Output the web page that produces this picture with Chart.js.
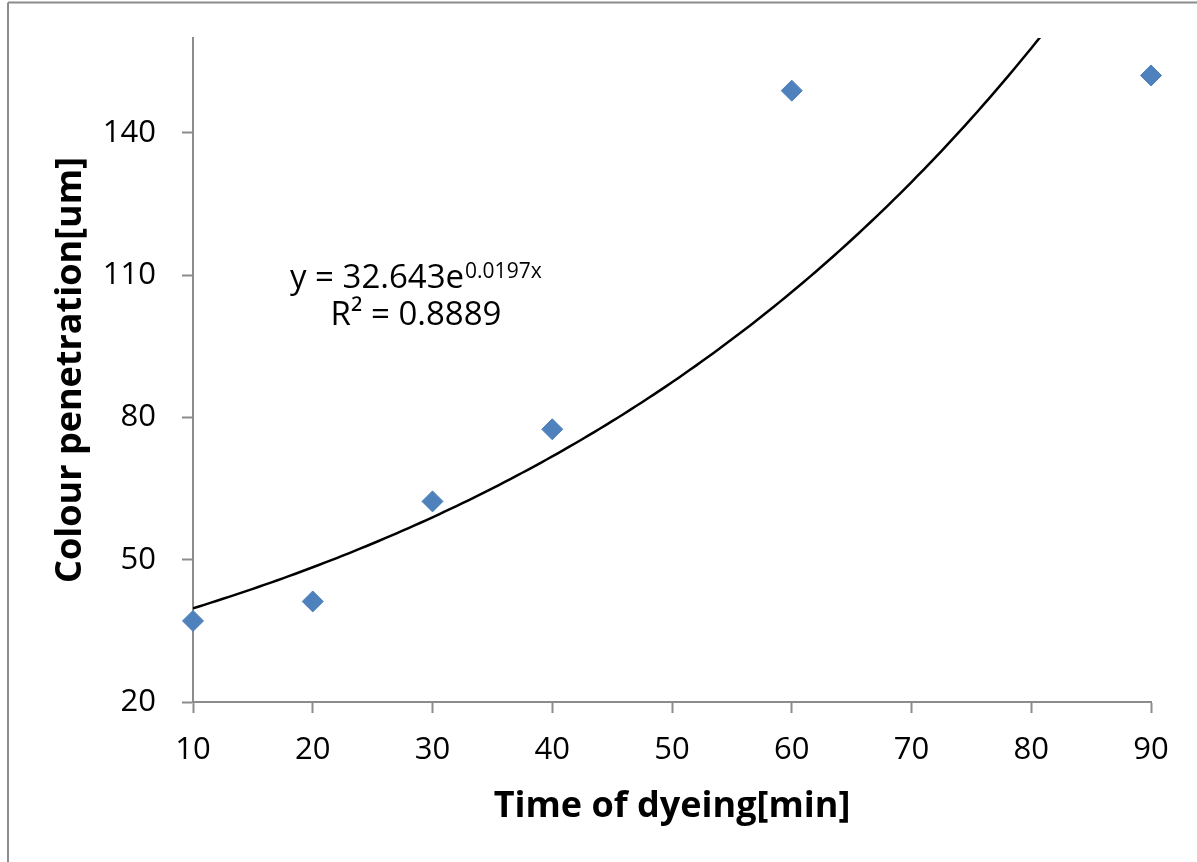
<!DOCTYPE html>
<html>
<head>
<meta charset="utf-8">
<script src="https://cdn.jsdelivr.net/npm/chart.js@4.4.1/dist/chart.umd.min.js"></script>
<style>
  html, body { margin: 0; padding: 0; background: #fff; }
</style>
</head>
<body>
<canvas id="dyeChart" width="1197" height="862"></canvas>
<script>
// dyeing data
var dyeTimes = [10, 20, 30, 40, 60, 90];
var penetration = [37.1, 41.2, 62.3, 77.5, 148.9, 152.1];
var xTicks = [10, 20, 30, 40, 50, 60, 70, 80, 90];
var yTicks = [20, 50, 80, 110, 140];

// exponential trendline y = a * e^(b x), as printed on the chart
var trendA = 32.643;
var trendB = 0.0197;
var trendR2 = 0.8889;

var trendPts = [];
for (var t = 10; t <= 90; t += 0.5) {
    trendPts.push({ x: t, y: trendA * Math.exp(trendB * t) });
}

var axisGrey = '#8c8c8c';

// frame lines (left + top only) and the equation text
var extras = {
    id: 'extras',
    beforeDraw: function (chart) {
        var c = chart.ctx;
        c.save();
        c.fillStyle = '#fff';
        c.fillRect(0, 0, chart.width, chart.height);
        c.strokeStyle = axisGrey;
        c.lineWidth = 2;
        c.beginPath();
        c.moveTo(8, 2.5);
        c.lineTo(chart.width, 2.5);
        c.moveTo(8, 2.5);
        c.lineTo(8, chart.height);
        c.stroke();
        c.restore();
    },
    afterDraw: function (chart) {
        var c = chart.ctx;
        c.save();
        c.fillStyle = '#000';
        c.textBaseline = 'alphabetic';
        c.textAlign = 'left';
        // line 1
        c.font = '33px "Open Sans"';
        var main = 'y = ' + trendA + 'e';
        c.fillText(main, 290, 288);
        var w = c.measureText(main).width;
        c.font = '21px "Open Sans"';
        c.fillText(String(trendB), 290 + w + 1, 278);
        c.fillText('x', 290 + w + 1 + c.measureText(String(trendB)).width, 278);
        // line 2
        c.font = '33px "Open Sans"';
        c.textAlign = 'center';
        c.fillText('R\u00B2 = ' + trendR2, 416, 325);
        c.restore();
    }
};

var ctx = document.getElementById('dyeChart').getContext('2d');
var dyeChart = new Chart(ctx, {
    type: 'scatter',
    data: {
        datasets: [{
            label: 'Colour penetration',
            data: dyeTimes.map(function (x, i) { return { x: x, y: penetration[i] }; }),
            pointStyle: 'rectRot',
            pointRadius: 10.5,
            pointHoverRadius: 10.5,
            backgroundColor: '#4F81BD',
            borderColor: '#4F81BD',
            borderWidth: 1,
            clip: false
        }, {
            label: 'Trend',
            type: 'line',
            data: trendPts,
            borderColor: '#000',
            borderWidth: 2.5,
            pointRadius: 0,
            tension: 0,
            fill: false
        }]
    },
    options: {
        responsive: false,
        animation: false,
        devicePixelRatio: 1,
        layout: {
            padding: { left: 0, right: 46, top: 38, bottom: 0 }
        },
        plugins: {
            legend: { display: false },
            tooltip: { enabled: false }
        },
        scales: {
            x: {
                type: 'linear',
                min: 10,
                max: 90,
                afterBuildTicks: function (scale) {
                    scale.ticks = xTicks.map(function (v) { return { value: v }; });
                },
                afterFit: function (scale) { scale.height = 160; },
                grid: { drawOnChartArea: false, tickLength: 11, color: axisGrey, tickWidth: 2 },
                border: { color: axisGrey, width: 2 },
                ticks: {
                    color: '#000',
                    padding: 19,
                    maxRotation: 0,
                    font: { family: 'Open Sans', size: 31 }
                },
                title: {
                    display: true,
                    text: 'Time of dyeing[min]',
                    color: '#000',
                    font: { family: 'Open Sans', size: 36, weight: 'bold', lineHeight: 1 },
                    padding: { top: 0, bottom: 37 }
                }
            },
            y: {
                type: 'linear',
                min: 20,
                max: 160,
                afterBuildTicks: function (scale) {
                    scale.ticks = yTicks.map(function (v) { return { value: v }; });
                },
                afterFit: function (scale) {
                    scale.width = 193;
                    scale.paddingTop = 0;
                    scale.paddingBottom = 0;
                },
                grid: { drawOnChartArea: false, tickLength: 11, color: axisGrey, tickWidth: 2 },
                border: { color: axisGrey, width: 2 },
                ticks: {
                    color: '#000',
                    padding: 26,
                    font: { family: 'Open Sans', size: 31 }
                },
                title: {
                    display: true,
                    text: 'Colour penetration[um]',
                    color: '#000',
                    font: { family: 'Open Sans', size: 36, weight: 'bold', lineHeight: 1 },
                    padding: { top: 53, bottom: 0 }
                }
            }
        }
    },
    plugins: [extras]
});
</script>
</body>
</html>
